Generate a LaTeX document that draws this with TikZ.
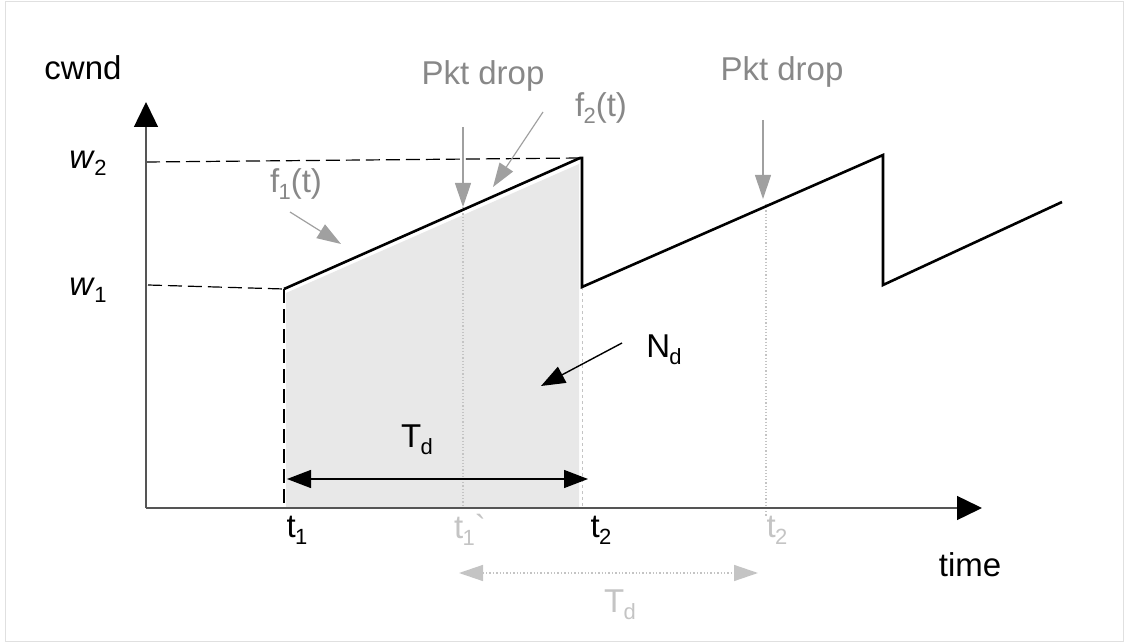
\documentclass[tikz,border=0pt]{standalone}
\usepackage{fontspec}
\setmainfont{Liberation Sans}
\usetikzlibrary{arrows.meta}
\definecolor{lbl}{HTML}{888888}
\definecolor{faint}{HTML}{C4C4C4}
\definecolor{areagray}{HTML}{E8E8E8}
\definecolor{axisc}{HTML}{555555}
\definecolor{droparrow}{HTML}{A0A0A0}
\newcommand\lowsub[1]{\kern-0.02em\raisebox{-0.22em}{\fontsize{22}{22}\selectfont #1}}
\begin{document}
\begin{tikzpicture}[x=1pt,y=-1pt,
  txt/.style={font=\fontsize{33}{36}\selectfont, inner sep=0pt},
  graytxt/.style={txt, text=lbl},
  fainttxt/.style={txt, text=faint},
  axisline/.style={draw=axisc, line width=1.4pt, -{Triangle[length=25pt,width=24pt,color=black]}},
  saw/.style={draw=black, line width=2.6pt, line join=miter},
  guide/.style={draw=black, dashed, dash pattern=on 14pt off 6pt, line width=1.2pt},
  dotguide/.style={draw=faint, dotted, line width=1.2pt},
  droparr/.style={draw=droparrow, line width=1.2pt, -{Triangle[length=24pt,width=16pt]}},
  blackarr/.style={draw=black, line width=1.4pt, -{Triangle[length=24pt,width=18pt]}},
]
\useasboundingbox (0,0) rectangle (1128,644);
\draw[draw=black!12, line width=1pt] (5,1.5) rectangle (1123,641);

% coordinates
\coordinate (O) at (146,508);
\coordinate (Ytop) at (146,102);
\coordinate (Xend) at (982,508);
\coordinate (A) at (284,289);
\coordinate (B) at (580,158);
\coordinate (B2) at (582,158);
\coordinate (C) at (582,287);
\coordinate (D) at (883,155);
\coordinate (E) at (883,285);
\coordinate (F) at (1062,202);
\coordinate (W2s) at (146,162);
\coordinate (W1s) at (148,285);
\coordinate (A0) at (284,508);
\coordinate (C0) at (582,508);

% shaded area
\fill[areagray] (286,293) -- (579,164) -- (579,508) -- (286,508) -- cycle;

% guides
\draw[guide] (W2s) -- (B);
\draw[guide] (W1s) -- (A);
\draw[guide] (A) -- (A0);
\draw[draw=faint, dashed, line width=1pt] (C) -- (C0);
\coordinate (P1) at (463,207);
\coordinate (P1b) at (463,508);
\coordinate (P2) at (766,204);
\coordinate (P2b) at (766,516);
\draw[dotguide] (P1) -- (P1b);
\draw[dotguide] (P2) -- (P2b);

% axes
\draw[axisline] (O) -- (Ytop);
\draw[axisline] (O) -- (Xend);

% sawtooth
\draw[saw] (A) -- (B) -- (B2) -- (C) -- (D) -- (E) -- (F);

% labels
\node[txt] (cwnd) at (83,68) {cwnd};
\node[txt] (w2) at (88,163) {\textit{w}\lowsub{2}};
\node[txt] (w1) at (88,290) {\textit{w}\lowsub{1}};
\node[graytxt] (drop1) at (483,76) {Pkt drop};
\node[graytxt] (drop2) at (782,72) {Pkt drop};
\node[graytxt] (f2) at (601,108) {f\lowsub{2}(t)};
\node[graytxt] (f1) at (296,184) {f\lowsub{1}(t)};
\node[txt] (Nd) at (664,350) {N\lowsub{d}};
\node[txt] (Td) at (417,440) {T\lowsub{d}};
\node[txt] (t1) at (297,530) {t\lowsub{1}};
\node[fainttxt] (t1p) at (470,530) {t\lowsub{1}\textasciigrave};
\node[txt] (t2) at (601,530) {t\lowsub{2}};
\node[fainttxt] (t2p) at (777,530) {t\lowsub{2}};
\node[txt] (time) at (970,565) {time};
\node[fainttxt] (Tdp) at (620,605) {T\lowsub{d}};

% pkt drop arrows
\coordinate (d1s) at (463,127);
\coordinate (d2s) at (763,120);
\coordinate (d2e) at (763,199);
\draw[droparr] (d1s) -- (P1);
\draw[droparr] (d2s) -- (d2e);

% f arrows
\coordinate (f2s) at (543,112);
\coordinate (f2e) at (493,187);
\coordinate (f1s) at (290,212);
\coordinate (f1e) at (341,244);
\draw[droparr] (f2s) -- (f2e);
\draw[droparr] (f1s) -- (f1e);

% N_d arrow
\coordinate (nds) at (622,343);
\coordinate (nde) at (541,386);
\draw[blackarr] (nds) -- (nde);

% T_d double arrow
\coordinate (tda) at (287,479);
\coordinate (tdb) at (588,479);
\draw[draw=black, line width=1.4pt, {Triangle[length=24pt,width=18pt]}-{Triangle[length=24pt,width=18pt]}] (tda) -- (tdb);

% gray T_d double arrow
\coordinate (gta) at (459,573);
\coordinate (gtb) at (758,573);
\draw[draw=faint, dotted, line width=1.4pt, {Triangle[length=24pt,width=16pt]}-{Triangle[length=24pt,width=16pt]}] (gta) -- (gtb);
\end{tikzpicture}
\end{document}
